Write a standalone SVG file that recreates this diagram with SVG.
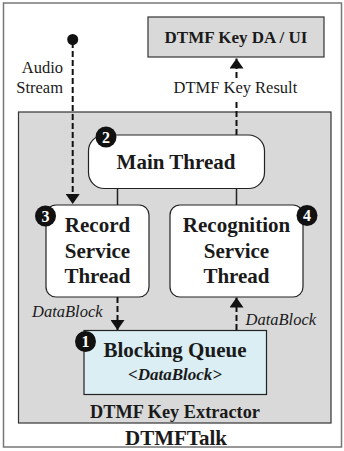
<svg xmlns="http://www.w3.org/2000/svg" width="344" height="451" viewBox="0 0 344 451" font-family="Liberation Serif, Times New Roman, serif">
<style>
text{font-family:'Liberation Serif','Times New Roman',Times,serif;fill:#1a1a1a}
.b{font-weight:bold}
.lbl{font-size:16.5px}
.it{font-style:italic;font-size:16.5px}
.box{fill:#fff;stroke:#222;stroke-width:1.2}
.dash{fill:none;stroke:#111;stroke-width:2;stroke-dasharray:6 3}
.solid{fill:none;stroke:#222;stroke-width:1.5}
.num{fill:#fff;font-weight:bold;font-size:16px;text-anchor:middle}
.t21{font-size:21px;font-weight:bold;text-anchor:middle}
</style>
<defs>
<marker id="ah" viewBox="0 0 10 14" refX="10" refY="7" markerWidth="10" markerHeight="14" markerUnits="userSpaceOnUse" orient="auto">
<path d="M0,0 L10,7 L0,14 z" fill="#111"/>
</marker>
</defs>
<g id="dtmftalk">
<rect x="3.5" y="3" width="338" height="444" fill="#fff" stroke="#777" stroke-width="1.5"/>
<text x="176" y="445" class="t21">DTMFTalk</text>
</g>
<g id="extractor">
<rect x="18.5" y="112" width="312.5" height="311" fill="#d9d9d9" stroke="#333" stroke-width="1.2"/>
<text x="175" y="418" class="b" font-size="18.3" text-anchor="middle">DTMF Key Extractor</text>
</g>
<g id="daui">
<rect x="148" y="17" width="176" height="40" fill="#d9d9d9" stroke="#333" stroke-width="1.2"/>
<text x="236" y="43" class="b" font-size="17" text-anchor="middle">DTMF Key DA / UI</text>
</g>
<g id="audio">
<circle cx="72.7" cy="39.5" r="5.5" fill="#111"/>
<text x="63" y="73" class="lbl" text-anchor="end">Audio</text>
<text x="63" y="93" class="lbl" text-anchor="end">Stream</text>
</g>
<g id="connectors">
<line x1="72.7" y1="42" x2="72.7" y2="204" class="dash" marker-end="url(#ah)"/>
<line x1="236.5" y1="135" x2="236.5" y2="100" class="dash"/>
<line x1="236.5" y1="78" x2="236.5" y2="58.5" class="dash" marker-end="url(#ah)"/>
<line x1="117.5" y1="188.5" x2="117.5" y2="205" class="solid"/>
<line x1="236.5" y1="188.5" x2="236.5" y2="205" class="solid"/>
<line x1="117.5" y1="297" x2="117.5" y2="330" class="dash" marker-end="url(#ah)"/>
<line x1="236.5" y1="330" x2="236.5" y2="297.5" class="dash" marker-end="url(#ah)"/>
<text x="173.5" y="93" font-size="16.8" class="lbl">DTMF Key Result</text>
<text x="32" y="317" class="it">DataBlock</text>
<text x="245.5" y="325" class="it">DataBlock</text>
</g>
<g id="main">
<rect x="88.5" y="135" width="176" height="53.5" rx="16" class="box"/>
<text x="176" y="169" class="t21">Main Thread</text>
<circle cx="106" cy="137" r="10.5" fill="#111"/>
<text x="106" y="142.5" class="num">2</text>
</g>
<g id="record">
<rect x="46" y="205" width="103" height="92" rx="10" class="box"/>
<text x="97.5" y="231.5" class="t21">Record</text>
<text x="97.5" y="257.5" class="t21">Service</text>
<text x="97.5" y="282.5" class="t21">Thread</text>
<circle cx="45.5" cy="216" r="10.5" fill="#111"/>
<text x="45.5" y="221.5" class="num">3</text>
</g>
<g id="recognition">
<rect x="170" y="205" width="133" height="92" rx="10" class="box"/>
<text x="236.5" y="231.5" class="t21">Recognition</text>
<text x="236.5" y="257.5" class="t21">Service</text>
<text x="236.5" y="282.5" class="t21">Thread</text>
<circle cx="307" cy="215.5" r="10.5" fill="#111"/>
<text x="307" y="221" class="num">4</text>
</g>
<g id="queue">
<rect x="84" y="330.5" width="182.5" height="64" fill="#daeef3" stroke="#222" stroke-width="1.2"/>
<text x="175" y="356.5" class="t21">Blocking Queue</text>
<text x="175" y="380" class="b" font-style="italic" font-size="17" text-anchor="middle">&lt;DataBlock&gt;</text>
<circle cx="85.5" cy="341.5" r="10.5" fill="#111"/>
<text x="85.5" y="347" class="num">1</text>
</g>
</svg>
